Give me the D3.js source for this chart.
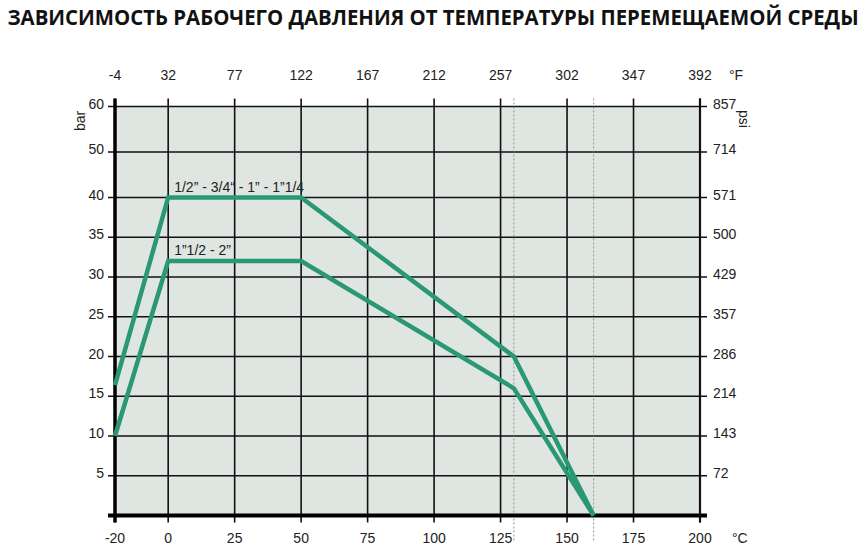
<!DOCTYPE html>
<html><head><meta charset="utf-8">
<script src="https://cdn.jsdelivr.net/npm/d3@7"></script>
<style>body{margin:0;background:#fff}svg{display:block}</style>
</head><body>
<svg id="c" width="867" height="554"></svg>
<script>
const title = "ЗАВИСИМОСТЬ РАБОЧЕГО ДАВЛЕНИЯ ОТ ТЕМПЕРАТУРЫ ПЕРЕМЕЩАЕМОЙ СРЕДЫ";
const cTicks = [-20, 0, 25, 50, 75, 100, 125, 150, 175, 200];
const fTicks = [-4, 32, 77, 122, 167, 212, 257, 302, 347, 392];
const barTicks = [60, 50, 40, 35, 30, 25, 20, 15, 10, 5];
const psiTicks = [857, 714, 571, 500, 429, 357, 286, 214, 143, 72];
const dashedTemps = [130, 160];
const seriesNames = ["1/2” - 3/4“ - 1” - 1”1/4", "1”1/2 - 2”"];
const series1Temp = [-20, 0, 50, 130, 160];
const series1Bar = [16.4, 40, 40, 20, 0];
const series2Temp = [-20, 0, 50, 130, 160];
const series2Bar = [10, 32, 32, 16, 0];

const svg = d3.select("#c");
const x = d3.scaleLinear().domain([-20, 200]).range([115, 700]);
const y = d3.scaleLinear().domain([0, 40, 60]).range([515.5, 197.5, 106.5]);
const green = "#2b9874";

const tg = svg.append("g");
const tt = tg.append("text").attr("x", 0).attr("y", 0).attr("text-anchor", "middle")
  .attr("font-family", "'Open Sans', sans-serif").attr("font-weight", "bold")
  .attr("font-size", 22).attr("fill", "#111").text(title);
const natural = tt.node().getComputedTextLength();
const sx = Math.min(1, 852 / natural);
tg.attr("transform", `translate(433,25) scale(${sx},1)`);

svg.append("rect").attr("x", x(-20)).attr("y", y(60)).attr("width", x(200) - x(-20))
  .attr("height", y(0) - y(60)).attr("fill", "#dfe6e1");

const g = svg.append("g");
barTicks.forEach(v => {
  g.append("line").attr("x1", x(-20) - 7).attr("x2", x(200) + 7)
    .attr("y1", y(v)).attr("y2", y(v)).attr("stroke", "#111").attr("stroke-width", 1.6);
});
cTicks.forEach(v => {
  g.append("line").attr("x1", x(v)).attr("x2", x(v))
    .attr("y1", y(60) - 8).attr("y2", y(0) + 7).attr("stroke", "#111").attr("stroke-width", 1.6);
});
dashedTemps.forEach(v => {
  g.append("line").attr("x1", x(v)).attr("x2", x(v)).attr("y1", y(60) - 8).attr("y2", y(0) + 25)
    .attr("stroke", "#777").attr("stroke-width", 0.8).attr("stroke-dasharray", "2,2");
});
g.append("line").attr("x1", x(-20)).attr("x2", x(-20)).attr("y1", y(60) - 8).attr("y2", y(0) + 7)
  .attr("stroke", "#000").attr("stroke-width", 3.5);
g.append("line").attr("x1", x(-20) - 7).attr("x2", x(200) + 7).attr("y1", y(0)).attr("y2", y(0))
  .attr("stroke", "#000").attr("stroke-width", 4);
g.append("line").attr("x1", x(200)).attr("x2", x(200)).attr("y1", y(60) - 8).attr("y2", y(0) + 7)
  .attr("stroke", "#111").attr("stroke-width", 2.2);

const line = d3.line().x(d => x(d[0])).y(d => y(d[1]));
[[series1Temp, series1Bar], [series2Temp, series2Bar]].forEach(([t, b]) => {
  svg.append("path").datum(t.map((v, i) => [v, b[i]])).attr("d", line)
    .attr("fill", "none").attr("stroke", green).attr("stroke-width", 4.5)
    .attr("stroke-linejoin", "miter");
});

const font = "'Liberation Sans', Arial, sans-serif";
const lab = (xx, yy, txt, anchor) => svg.append("text").attr("x", xx).attr("y", yy)
  .attr("text-anchor", anchor).attr("font-family", font).attr("font-size", 14)
  .attr("fill", "#222").text(txt);

barTicks.forEach(v => lab(104, y(v) + 2, v, "end"));
psiTicks.forEach((v, i) => lab(713, y(barTicks[i]) + 2, v, "start"));
cTicks.forEach(v => lab(x(v), 543, v, "middle"));
fTicks.forEach((v, i) => lab(x(cTicks[i]), 80, v, "middle"));
lab(729, 80, "°F", "start");
lab(732, 543, "°C", "start");
svg.append("text").attr("transform", "translate(85,121) rotate(-90)").attr("text-anchor", "middle")
  .attr("font-family", font).attr("font-size", 14).attr("fill", "#222").text("bar");
svg.append("text").attr("transform", "translate(739,119) rotate(90)").attr("text-anchor", "middle")
  .attr("font-family", font).attr("font-size", 14).attr("fill", "#222").text("psi");

svg.append("text").attr("x", x(0) + 6).attr("y", y(40) - 6).attr("font-family", font)
  .attr("font-size", 14).attr("fill", "#222").text(seriesNames[0]);
svg.append("text").attr("x", x(0) + 6).attr("y", y(32) - 6).attr("font-family", font)
  .attr("font-size", 14).attr("fill", "#222").text(seriesNames[1]);
</script>
</body></html>
